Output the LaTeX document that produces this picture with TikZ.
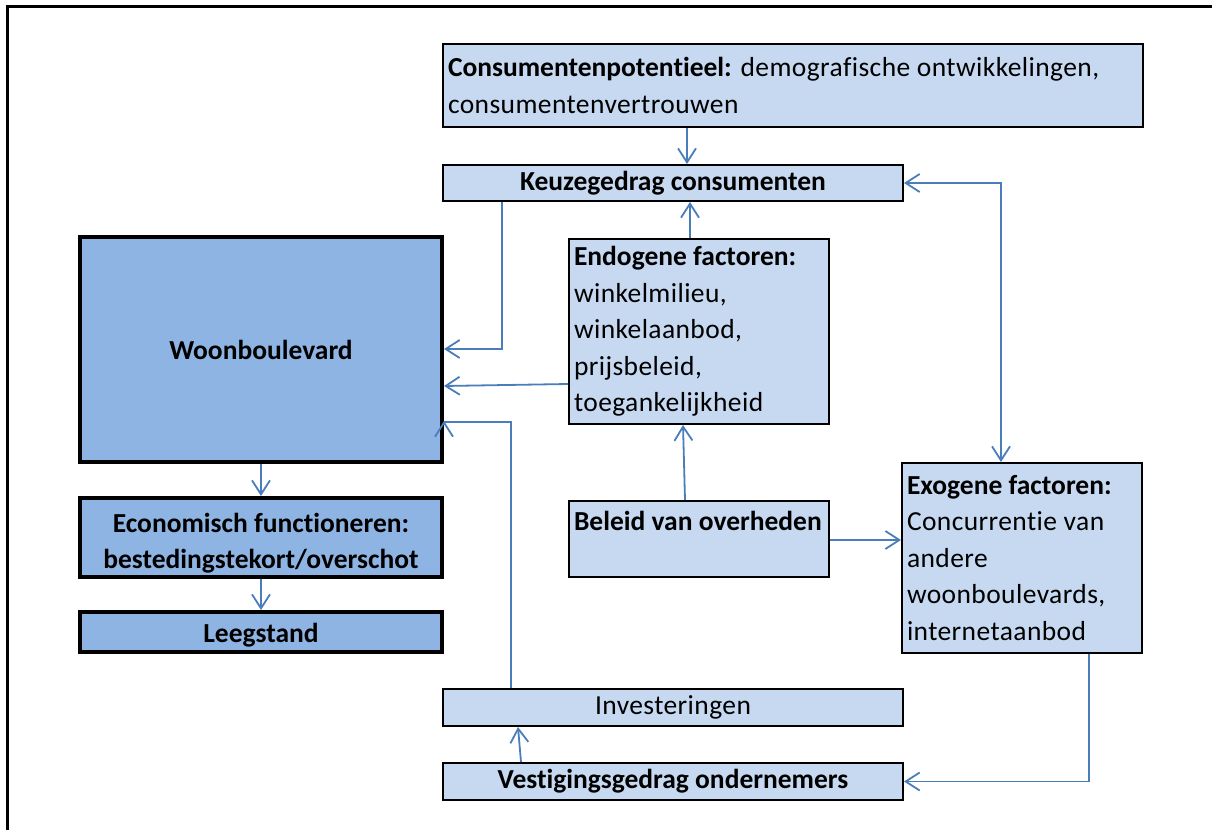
\documentclass[tikz,border=0pt]{standalone}
\usepackage{fontspec}
\setmainfont{Carlito}[Ligatures={NoCommon}, UprightFeatures={LetterSpace=1.5}]
\usetikzlibrary{arrows.meta,calc}
\definecolor{lightfill}{HTML}{C6D9F1}
\definecolor{darkfill}{HTML}{8EB4E3}
\definecolor{conncol}{HTML}{4A7EBB}
\begin{document}
\begin{tikzpicture}[x=1pt,y=-1pt,
  every node/.style={font=\fontsize{27.5}{36.5}\selectfont, inner sep=0pt},
  lbox/.style={draw=black, line width=2pt, fill=lightfill, inner xsep=5pt, inner ysep=0pt},
  dbox/.style={draw=black, line width=4pt, fill=darkfill, align=center},
  tip/.tip={Straight Barb[length=14pt,width=18pt,line width=1.8pt]},
  connline/.style={draw=conncol, line width=1.8pt},
  link/.style={connline, -tip},
  link2/.style={connline, tip-tip},
]
\useasboundingbox (0,0) rectangle (1212,830);
% outer frame
\draw[line width=3pt] (7,830) -- (7,6) -- (1212,6);

% boxes
\node[lbox, minimum width=700, minimum height=83, text width=690, align=flush left] (cons) at (793,85.5)
  {\mbox{\textbf{Consumentenpotentieel:} demografische ontwikkelingen,}\\consumentenvertrouwen};
\node[lbox, minimum width=460, minimum height=36, align=center] (keuze) at (673,183)
  {\textbf{Keuzegedrag consumenten}};
\node[dbox, minimum width=362, minimum height=225] (woon) at (261,349.5)
  {\textbf{Woonboulevard}};
\node[dbox, minimum width=362, minimum height=79] (econ) at (261,537.5)
  {\rule{0pt}{31pt}\textbf{Economisch functioneren:}\\\textbf{bestedingstekort/overschot}};
\node[dbox, minimum width=362, minimum height=40] (leeg) at (261,632)
  {\rule{0pt}{26pt}\textbf{Leegstand}};
\node[lbox, minimum width=260, minimum height=185, text width=250, align=flush left] (endo) at (699,331.5)
  {\mbox{\textbf{Endogene factoren:}}\\winkelmilieu,\\winkelaanbod,\\prijsbeleid,\\toegankelijkheid};
\node[lbox, minimum width=260, minimum height=76, text width=250, align=flush left] (beleid) at (699,539)
  {\mbox{\textbf{Beleid van overheden}}\\ \mbox{}};
\node[lbox, minimum width=240, minimum height=190, text width=230, align=flush left] (exo) at (1022,558)
  {\mbox{\textbf{Exogene factoren:}}\\\mbox{Concurrentie van}\\andere\\woonboulevards,\\internetaanbod};
\node[lbox, minimum width=460, minimum height=37, align=center] (inv) at (673,707.5)
  {Investeringen};
\node[lbox, minimum width=460, minimum height=37, align=center] (vest) at (673,781.5)
  {\textbf{Vestigingsgedrag ondernemers}};

% connectors
\draw[link] ($(cons.south west)+(245,0)$) -- ($(keuze.north west)+(245,0)$);
\draw[link] ($(endo.north west)+(122,0)$) -- ($(keuze.south west)+(248,0)$);
\draw[link] ($(keuze.south west)+(60,0)$) |- ($(woon.north east)+(0,114)$);
\draw[link] ($(endo.north west)+(0,146)$) -- ($(woon.north east)+(0,151)$);
\draw[connline] ($(inv.north west)+(69,0)$) |- ($(woon.north east)+(0,187)$);
\draw[link] ($(woon.north east)+(0,189)$) -- ($(woon.north east)+(0,186)$);
\draw[link] ($(beleid.north west)+(117,0)$) -- ($(endo.south west)+(115,0)$);
\coordinate (bl) at ($(beleid.north east)+(0,40)$);
\draw[link] (bl) -- (bl -| exo.west);
\draw[link2] (keuze.east) -| ($(exo.north west)+(100,0)$);
\draw[link] ($(exo.south west)+(188,0)$) |- (vest.east);
\draw[link] ($(vest.north west)+(79,0)$) -- ($(inv.south west)+(76,0)$);
\draw[link] (woon.south) -- (econ.north);
\draw[link] (econ.south) -- (leeg.north);
\end{tikzpicture}
\end{document}
